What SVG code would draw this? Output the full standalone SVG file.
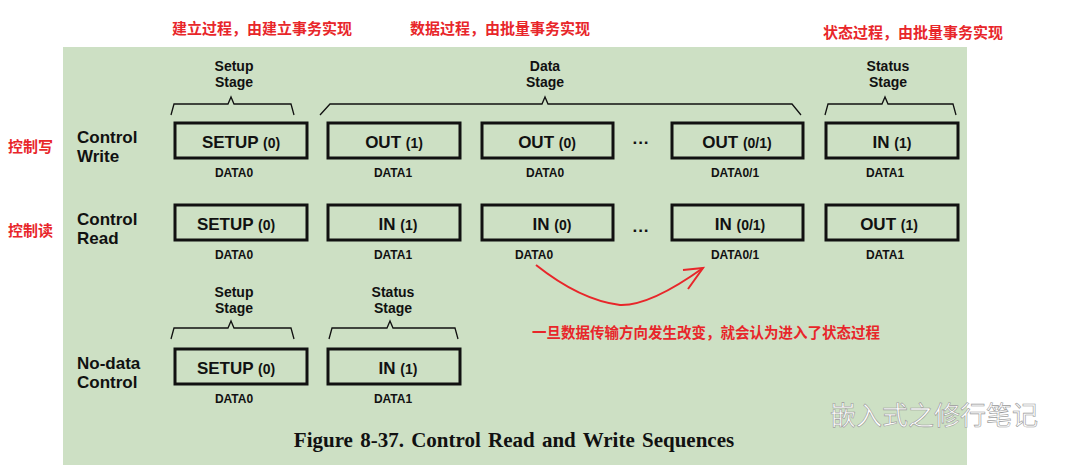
<svg xmlns="http://www.w3.org/2000/svg" width="1080" height="465" viewBox="0 0 1080 465">
<style>
.b{fill:none;stroke:#111;stroke-width:3}
.t{font-family:"Liberation Sans",Arial,sans-serif;font-weight:bold;fill:#111;text-anchor:middle}
.bt{font-size:17px}.sm{font-size:12px}.lb{font-size:17px;text-anchor:start}
.st{font-size:14px}
.cn{font-family:"Noto Sans CJK SC",sans-serif;font-weight:bold;fill:#e8262a;font-size:15px}
.br{fill:none;stroke:#111;stroke-width:1.3}
</style>
<rect width="1080" height="465" fill="#fff"/>
<rect x="63" y="47" width="904" height="418" fill="#cde0c4"/>
<text class="cn" x="172" y="34">建立过程，由建立事务实现</text>
<text class="cn" x="410" y="34">数据过程，由批量事务实现</text>
<text class="cn" x="823" y="38">状态过程，由批量事务实现</text>
<text class="cn" x="8" y="152">控制写</text>
<text class="cn" x="8" y="236">控制读</text>
<g class="t st"><text x="234" y="71">Setup</text><text x="234" y="87">Stage</text>
<text x="545" y="71">Data</text><text x="545" y="87">Stage</text>
<text x="888" y="71">Status</text><text x="888" y="87">Stage</text>
<text x="234" y="297">Setup</text><text x="234" y="313">Stage</text>
<text x="393" y="297">Status</text><text x="393" y="313">Stage</text></g>
<g id="braces">
<path class="br" d="M171,115 L174,104 L228,104 L231,97 L234,104 L291,104 L294,115"/>
<path class="br" d="M320,115 L330,104 L542,104 L545,97 L548,104 L792,104 L801,115"/>
<path class="br" d="M825,115 L828,104 L882,104 L885,97 L888,104 L953,104 L956,115"/>
<path class="br" d="M171,339 L174,328 L228,328 L231,321 L234,328 L291,328 L294,339"/>
<path class="br" d="M329,339 L332,328 L387,328 L390,321 L393,328 L455,328 L458,339"/>
</g>
<g class="t lb"><text x="77" y="143">Control</text><text x="77" y="162">Write</text>
<text x="77" y="225">Control</text><text x="77" y="244">Read</text>
<text x="77" y="369">No-data</text><text x="77" y="388">Control</text></g>
<g id="row1">
<rect class="b" x="175" y="123" width="132" height="35"/><text class="t bt" x="241" y="148">SETUP <tspan font-size="14">(0)</tspan></text><text class="t sm" x="234" y="177">DATA0</text>
<rect class="b" x="328" y="123" width="132" height="35"/><text class="t bt" x="394" y="148">OUT <tspan font-size="14">(1)</tspan></text><text class="t sm" x="393" y="177">DATA1</text>
<rect class="b" x="482" y="123" width="131" height="35"/><text class="t bt" x="547" y="148">OUT <tspan font-size="14">(0)</tspan></text><text class="t sm" x="545" y="177">DATA0</text>
<text class="t bt" x="641" y="148">···</text>
<rect class="b" x="672" y="123" width="131" height="35"/><text class="t bt" x="737" y="148">OUT <tspan font-size="14">(0/1)</tspan></text><text class="t sm" x="735" y="177">DATA0/1</text>
<rect class="b" x="826" y="123" width="132" height="35"/><text class="t bt" x="892" y="148">IN <tspan font-size="14">(1)</tspan></text><text class="t sm" x="885" y="177">DATA1</text>
</g>
<g id="row2">
<rect class="b" x="175" y="205" width="132" height="35"/><text class="t bt" x="236" y="230">SETUP <tspan font-size="14">(0)</tspan></text><text class="t sm" x="234" y="259">DATA0</text>
<rect class="b" x="328" y="205" width="132" height="35"/><text class="t bt" x="398" y="230">IN <tspan font-size="14">(1)</tspan></text><text class="t sm" x="393" y="259">DATA1</text>
<rect class="b" x="482" y="205" width="131" height="35"/><text class="t bt" x="552" y="230">IN <tspan font-size="14">(0)</tspan></text><text class="t sm" x="534" y="259">DATA0</text>
<text class="t bt" x="641" y="236">···</text>
<rect class="b" x="672" y="205" width="131" height="35"/><text class="t bt" x="740" y="230">IN <tspan font-size="14">(0/1)</tspan></text><text class="t sm" x="735" y="259">DATA0/1</text>
<rect class="b" x="826" y="205" width="132" height="35"/><text class="t bt" x="889" y="230">OUT <tspan font-size="14">(1)</tspan></text><text class="t sm" x="885" y="259">DATA1</text>
</g>
<g id="row3">
<rect class="b" x="175" y="349" width="132" height="35"/><text class="t bt" x="236" y="374">SETUP <tspan font-size="14">(0)</tspan></text><text class="t sm" x="234" y="403">DATA0</text>
<rect class="b" x="328" y="349" width="132" height="35"/><text class="t bt" x="398" y="374">IN <tspan font-size="14">(1)</tspan></text><text class="t sm" x="393" y="403">DATA1</text>
</g>
<g id="connectors">
<path d="M536,265 Q580,300 620,305 Q650,306 703,268" fill="none" stroke="#e8262a" stroke-width="2"/>
<path d="M683,270 L703,268 L688,289" fill="none" stroke="#e8262a" stroke-width="2"/>
</g>
<text class="cn" x="532" y="338" style="font-size:14.5px">一旦数据传输方向发生改变，就会认为进入了状态过程</text>
<text x="514" y="447" style="font-family:'Liberation Serif',serif;font-weight:bold;font-size:21px;fill:#111;text-anchor:middle;word-spacing:2px">Figure 8-37.  Control Read and Write Sequences</text>
<text x="830" y="425" style="font-family:'Noto Sans CJK SC',sans-serif;font-size:26px;fill:#fff;stroke:#999;stroke-width:0.6">嵌入式之修行笔记</text>
</svg>
